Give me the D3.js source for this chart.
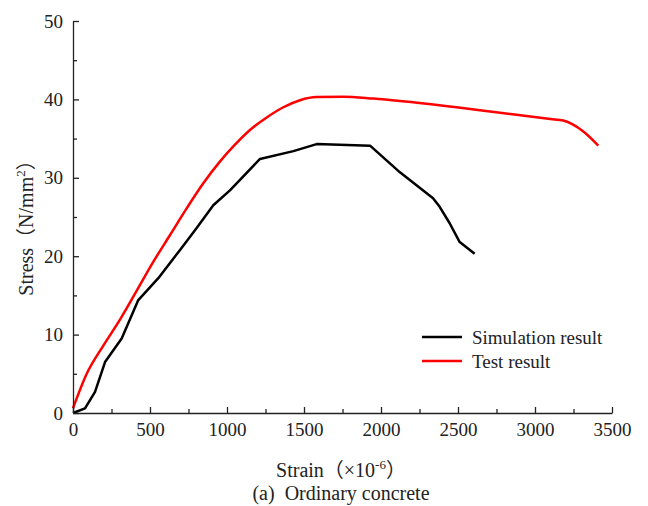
<!DOCTYPE html>
<html>
<head>
<meta charset="utf-8">
<script src="https://cdn.jsdelivr.net/npm/d3@7/dist/d3.min.js"></script>
<style>
  html, body { margin: 0; padding: 0; background: #fff; }
  svg text { font-family: "Liberation Serif", "Times New Roman", serif; fill: #222; }
</style>
</head>
<body>
<div id="chart"></div>
<script>
// stress-strain data (strain in 1e-6, stress in N/mm2)
const simStrain = [0, 78, 143, 208, 316, 424, 554, 695, 803, 911, 1019, 1214, 1431, 1582, 1929, 2123, 2338, 2381, 2446, 2511, 2608];
const simStress = [0, 0.6, 2.7, 6.5, 9.5, 14.4, 17.2, 20.8, 23.6, 26.5, 28.4, 32.4, 33.4, 34.3, 34.1, 30.7, 27.4, 26.3, 24.2, 21.8, 20.3];

const testStrain = [0, 89, 197, 305, 414, 522, 630, 738, 846, 955, 1041, 1149, 1258, 1366, 1474, 1582, 1755, 1950, 2123, 2490, 2773, 3100, 3184, 3314, 3411];
const testStress = [0.6, 5.0, 8.6, 11.9, 15.6, 19.3, 22.7, 26.1, 29.3, 32.1, 34.0, 36.1, 37.7, 39.0, 39.9, 40.3, 40.35, 40.1, 39.8, 39.0, 38.3, 37.5, 37.3, 35.9, 34.1];

const xTicks = [0, 500, 1000, 1500, 2000, 2500, 3000, 3500];
const xMinor = [250, 750, 1250, 1750, 2250, 2750, 3250];
const yTicks = [0, 10, 20, 30, 40, 50];
const yMinor = [5, 15, 25, 35, 45];

const seriesNames = ["Simulation result", "Test result"];
const seriesColors = ["#000000", "#ff0000"];

const W = 648, H = 506;
const x = d3.scaleLinear().domain([0, 3500]).range([73, 612]);
const y = d3.scaleLinear().domain([0, 50]).range([413, 21]);

const svg = d3.select("#chart").append("svg")
    .attr("width", W).attr("height", H);

// 曲线
const sim = simStrain.map((d, i) => ({ x: d, y: simStress[i] }));
const test = testStrain.map((d, i) => ({ x: d, y: testStress[i] }));

const line = d3.line().x(d => x(d.x)).y(d => y(d.y));
const smooth = d3.line().x(d => x(d.x)).y(d => y(d.y)).curve(d3.curveMonotoneX);

svg.append("path").datum(test)
    .attr("fill", "none").attr("stroke", seriesColors[1]).attr("stroke-width", 2.5)
    .attr("stroke-linejoin", "round")
    .attr("d", smooth);

svg.append("path").datum(sim)
    .attr("fill", "none").attr("stroke", seriesColors[0]).attr("stroke-width", 2.5)
    .attr("stroke-linejoin", "round")
    .attr("d", line);

// 坐标轴
const styleAxis = g => {
    g.selectAll(".domain").attr("stroke", "#222").attr("stroke-width", 1.3);
    g.selectAll(".tick line").attr("stroke", "#222").attr("stroke-width", 1.3);
    g.selectAll("text").style("font-size", "19px").attr("fill", "#222")
        .style("font-family", "'Liberation Serif', serif");
};

svg.append("g").attr("transform", `translate(0,${y(0)})`)
    .call(d3.axisBottom(x).tickValues(xTicks).tickSize(-6).tickSizeOuter(0).tickPadding(10).tickFormat(d3.format("d")))
    .call(styleAxis);
svg.append("g").attr("transform", `translate(0,${y(0)})`)
    .call(d3.axisBottom(x).tickValues(xMinor).tickSize(-4).tickFormat(""))
    .call(g => g.select(".domain").remove())
    .call(styleAxis);

svg.append("g").attr("transform", `translate(${x(0)},0)`)
    .call(d3.axisLeft(y).tickValues(yTicks).tickSize(-6).tickSizeOuter(0).tickPadding(10))
    .call(styleAxis);
svg.append("g").attr("transform", `translate(${x(0)},0)`)
    .call(d3.axisLeft(y).tickValues(yMinor).tickSize(-4).tickFormat(""))
    .call(g => g.select(".domain").remove())
    .call(styleAxis);

// 轴标题
const yTitle = svg.append("text")
    .attr("transform", `translate(33,223) rotate(-90)`)
    .attr("text-anchor", "middle")
    .style("font-size", "20px");
yTitle.append("tspan").text("Stress");
yTitle.append("tspan").style("font-family", "'Noto Sans CJK SC'").text("（");
yTitle.append("tspan").text("N/mm");
yTitle.append("tspan").attr("dy", -8).style("font-size", "13px").text("2");
yTitle.append("tspan").attr("dy", 8).style("font-family", "'Noto Sans CJK SC'").text("）");

const xTitle = svg.append("text")
    .attr("x", 341).attr("y", 477)
    .attr("text-anchor", "middle")
    .style("font-size", "20px");
xTitle.append("tspan").text("Strain");
xTitle.append("tspan").style("font-family", "'Noto Sans CJK SC'").text("（");
xTitle.append("tspan").text("×10");
xTitle.append("tspan").attr("dy", -8).style("font-size", "13px").text("-6");
xTitle.append("tspan").attr("dy", 8).style("font-family", "'Noto Sans CJK SC'").text("）");

svg.append("text")
    .attr("x", 341).attr("y", 500)
    .attr("text-anchor", "middle")
    .style("font-size", "20px")
    .style("white-space", "pre")
    .text("(a)  Ordinary concrete");

// 图例
const legend = svg.append("g").attr("transform", "translate(422,337)");
seriesNames.forEach((name, i) => {
    const row = legend.append("g").attr("transform", `translate(0,${i * 24})`);
    row.append("line")
        .attr("x1", 0).attr("x2", 40).attr("y1", 0).attr("y2", 0)
        .attr("stroke", seriesColors[i]).attr("stroke-width", 2.5);
    row.append("text")
        .attr("x", 50).attr("y", 6.5)
        .style("font-size", "19px")
        .text(name);
});
</script>
</body>
</html>
